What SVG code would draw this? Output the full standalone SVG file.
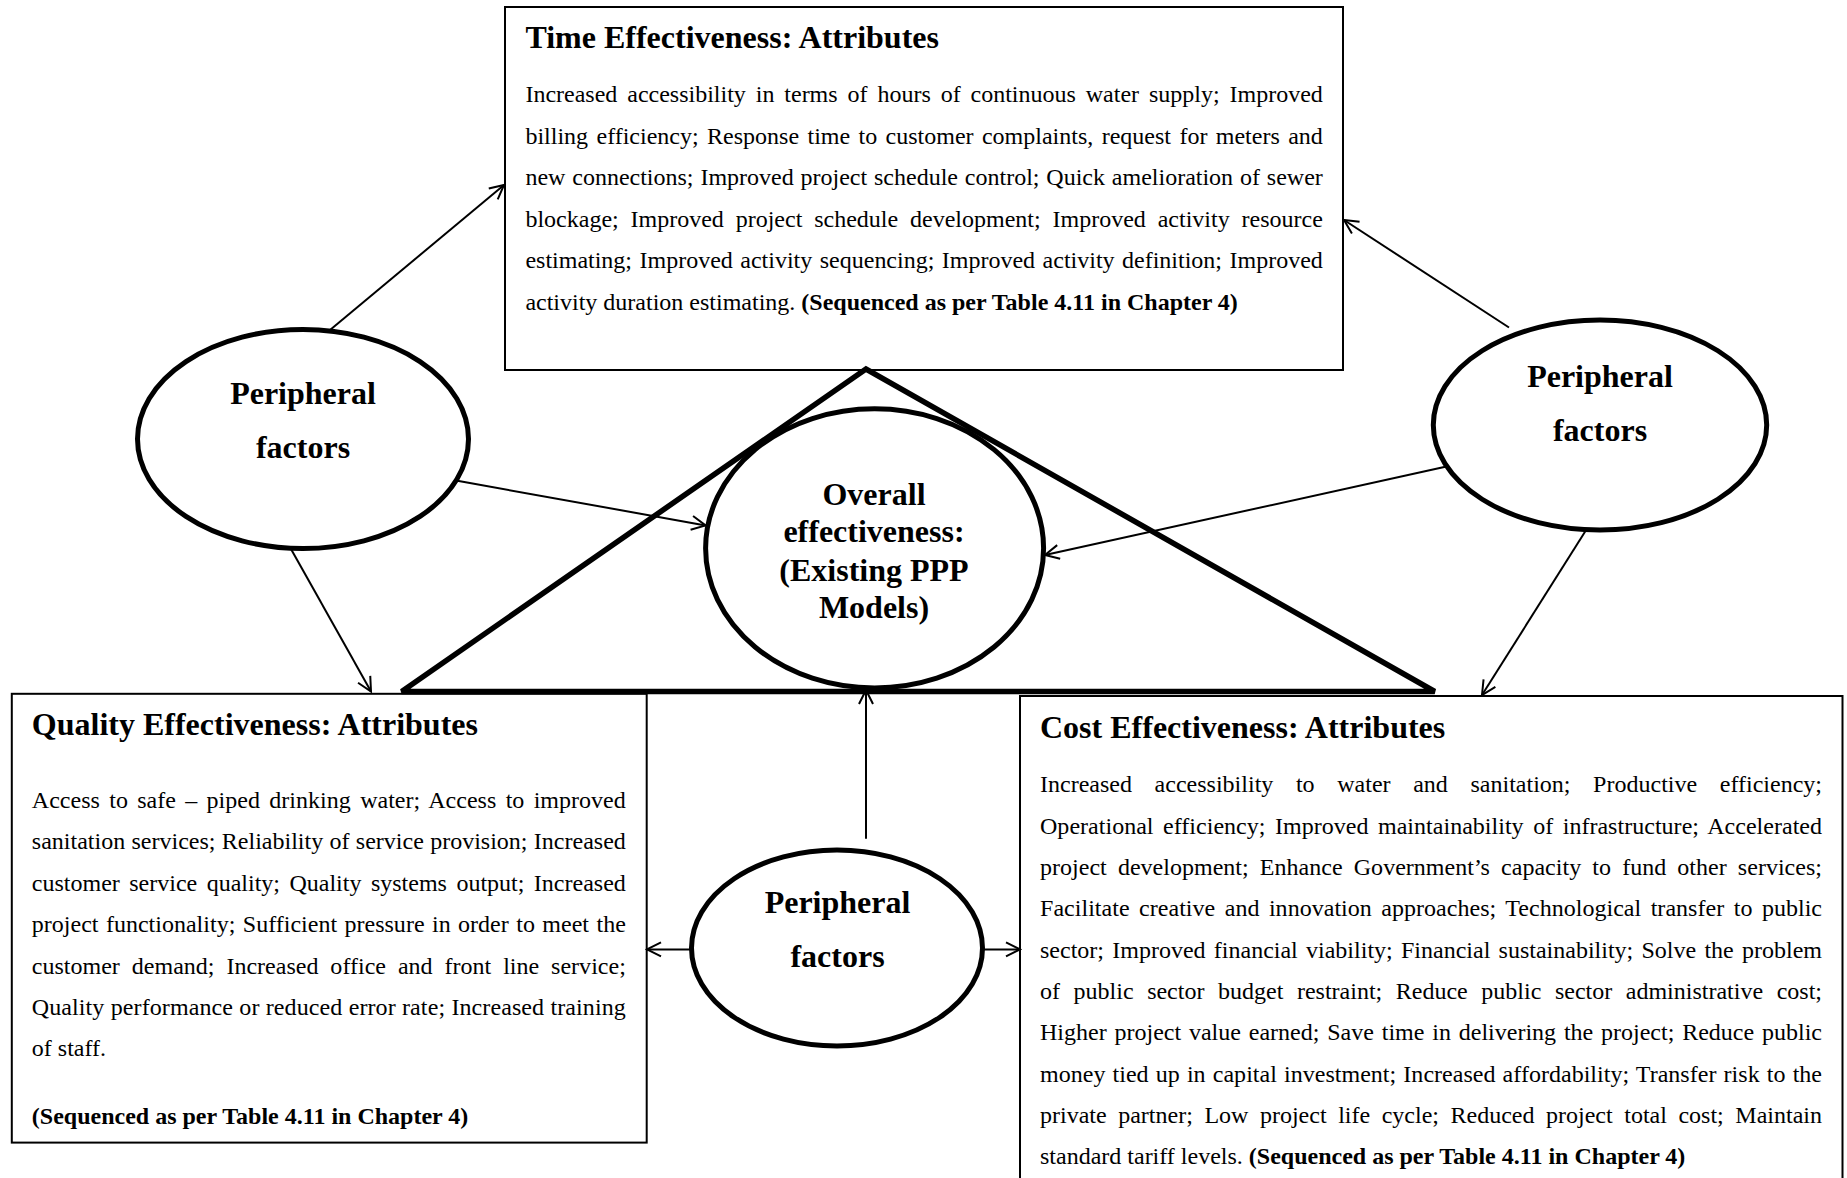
<svg xmlns="http://www.w3.org/2000/svg" width="1847" height="1178" viewBox="0 0 1847 1178">
<style>
.box{fill:#fff;stroke:#000;stroke-width:2}
.ell{fill:#fff;stroke:#000;stroke-width:5}
.tri{fill:none;stroke:#000;stroke-width:5.5;stroke-linejoin:miter;stroke-miterlimit:2}
.con{fill:none;stroke:#000;stroke-width:2;marker-end:url(#ah)}
text{font-family:"Liberation Serif","Times New Roman",serif;fill:#000}
.title{font-size:32px;font-weight:bold}
.body{font-size:24px}
.b{font-weight:bold}
.lbl{font-size:32px;font-weight:bold;text-anchor:middle}
</style>
<defs>
<marker id="ah" markerUnits="userSpaceOnUse" markerWidth="20" markerHeight="20" viewBox="0 0 20 20" refX="18" refY="10" orient="auto">
<path d="M4,3 L18,10 L4,17" fill="none" stroke="#000" stroke-width="2"/>
</marker>
</defs>
<rect width="1847" height="1178" fill="#fff"/>

<g id="time-box">
<rect class="box" x="505" y="7" width="838" height="363"/>
<text class="title" x="525.4" y="47.5">Time Effectiveness: Attributes</text>
<text class="body" x="525.4" y="102" textLength="797.4" lengthAdjust="spacing" style="word-spacing:3.9px">Increased accessibility in terms of hours of continuous water supply; Improved</text>
<text class="body" x="525.4" y="143.6" textLength="797.4" lengthAdjust="spacing" style="word-spacing:2.35px">billing efficiency; Response time to customer complaints, request for meters and</text>
<text class="body" x="525.4" y="185.2" textLength="797.4" lengthAdjust="spacing" style="word-spacing:0.85px">new connections; Improved project schedule control; Quick amelioration of sewer</text>
<text class="body" x="525.4" y="226.8" textLength="797.4" lengthAdjust="spacing" style="word-spacing:5.84px">blockage; Improved project schedule development; Improved activity resource</text>
<text class="body" x="525.4" y="268.4" textLength="797.4" lengthAdjust="spacing" style="word-spacing:1.5px">estimating; Improved activity sequencing; Improved activity definition; Improved</text>
<text class="body" x="525.4" y="310">activity duration estimating. <tspan class="b">(Sequenced as per Table 4.11 in Chapter 4)</tspan></text>
</g>

<g id="quality-box">
<rect class="box" x="11.8" y="693.8" width="634.9" height="448.8"/>
<text class="title" x="31.8" y="734.5">Quality Effectiveness: Attributes</text>
<text class="body" x="31.8" y="808" textLength="594" lengthAdjust="spacing" style="word-spacing:3.27px">Access to safe – piped drinking water; Access to improved</text>
<text class="body" x="31.8" y="849.4" textLength="594" lengthAdjust="spacing" style="word-spacing:0.33px">sanitation services; Reliability of service provision; Increased</text>
<text class="body" x="31.8" y="890.8" textLength="594" lengthAdjust="spacing" style="word-spacing:3.45px">customer service quality; Quality systems output; Increased</text>
<text class="body" x="31.8" y="932.2" textLength="594" lengthAdjust="spacing" style="word-spacing:1.43px">project functionality; Sufficient pressure in order to meet the</text>
<text class="body" x="31.8" y="973.6" textLength="594" lengthAdjust="spacing" style="word-spacing:5.93px">customer demand; Increased office and front line service;</text>
<text class="body" x="31.8" y="1015" textLength="594" lengthAdjust="spacing" style="word-spacing:0.17px">Quality performance or reduced error rate; Increased training</text>
<text class="body" x="31.8" y="1056.4">of staff.</text>
<text class="body b" x="31.8" y="1123.5">(Sequenced as per Table 4.11 in Chapter 4)</text>
</g>

<g id="cost-box">
<rect class="box" x="1020" y="696" width="822.5" height="520"/>
<text class="title" x="1040" y="738.3">Cost Effectiveness: Attributes</text>
<text class="body" x="1040" y="792.2" textLength="782" lengthAdjust="spacing" style="word-spacing:16.6px">Increased accessibility to water and sanitation; Productive efficiency;</text>
<text class="body" x="1040" y="833.6" textLength="782" lengthAdjust="spacing" style="word-spacing:3.48px">Operational efficiency; Improved maintainability of infrastructure; Accelerated</text>
<text class="body" x="1040" y="874.9" textLength="782" lengthAdjust="spacing" style="word-spacing:5.1px">project development; Enhance Government’s capacity to fund other services;</text>
<text class="body" x="1040" y="916.3" textLength="782" lengthAdjust="spacing" style="word-spacing:3.44px">Facilitate creative and innovation approaches; Technological transfer to public</text>
<text class="body" x="1040" y="957.6" textLength="782" lengthAdjust="spacing" style="word-spacing:2.25px">sector; Improved financial viability; Financial sustainability; Solve the problem</text>
<text class="body" x="1040" y="999" textLength="782" lengthAdjust="spacing" style="word-spacing:7.57px">of public sector budget restraint; Reduce public sector administrative cost;</text>
<text class="body" x="1040" y="1040.4" textLength="782" lengthAdjust="spacing" style="word-spacing:1.83px">Higher project value earned; Save time in delivering the project; Reduce public</text>
<text class="body" x="1040" y="1081.7" textLength="782" lengthAdjust="spacing" style="word-spacing:1.1px">money tied up in capital investment; Increased affordability; Transfer risk to the</text>
<text class="body" x="1040" y="1123.1" textLength="782" lengthAdjust="spacing" style="word-spacing:5.55px">private partner; Low project life cycle; Reduced project total cost; Maintain</text>
<text class="body" x="1040" y="1164.4">standard tariff levels. <tspan class="b">(Sequenced as per Table 4.11 in Chapter 4)</tspan></text>
</g>

<g id="triangle">
<polygon class="tri" points="866,369 401.7,691.5 1434.7,691.5"/>
</g>

<g id="connectors">
<line class="con" x1="330" y1="330" x2="504" y2="185"/>
<line class="con" x1="456" y1="480.6" x2="705.6" y2="525.4"/>
<line class="con" x1="291" y1="549" x2="371" y2="691.5"/>
<line class="con" x1="1509" y1="327.5" x2="1344" y2="220"/>
<line class="con" x1="1446.5" y1="466.5" x2="1045" y2="555"/>
<line class="con" x1="1585.5" y1="531" x2="1482" y2="695"/>
<line class="con" x1="866" y1="838.7" x2="866" y2="690"/>
<line class="con" x1="691.5" y1="949.4" x2="647" y2="949.4"/>
<line class="con" x1="982.5" y1="949.4" x2="1020" y2="949.4"/>
</g>

<g id="pf-left">
<ellipse class="ell" cx="303" cy="439" rx="165.5" ry="109.5"/>
<text class="lbl" x="303" y="403.5">Peripheral</text>
<text class="lbl" x="303" y="458">factors</text>
</g>

<g id="pf-right">
<ellipse class="ell" cx="1600" cy="425" rx="166.7" ry="105"/>
<text class="lbl" x="1600" y="386.5">Peripheral</text>
<text class="lbl" x="1600" y="440.5">factors</text>
</g>

<g id="overall">
<ellipse class="ell" style="fill:none" cx="874.6" cy="548.3" rx="169" ry="139.6"/>
<text class="lbl" x="874" y="505.3">Overall</text>
<text class="lbl" x="874" y="542.3">effectiveness:</text>
<text class="lbl" x="874" y="580.8">(Existing PPP</text>
<text class="lbl" x="874" y="618.4">Models)</text>
</g>

<g id="pf-bottom">
<ellipse class="ell" cx="837" cy="948" rx="145.5" ry="98"/>
<text class="lbl" x="837.5" y="912.5">Peripheral</text>
<text class="lbl" x="837.5" y="967">factors</text>
</g>
</svg>
